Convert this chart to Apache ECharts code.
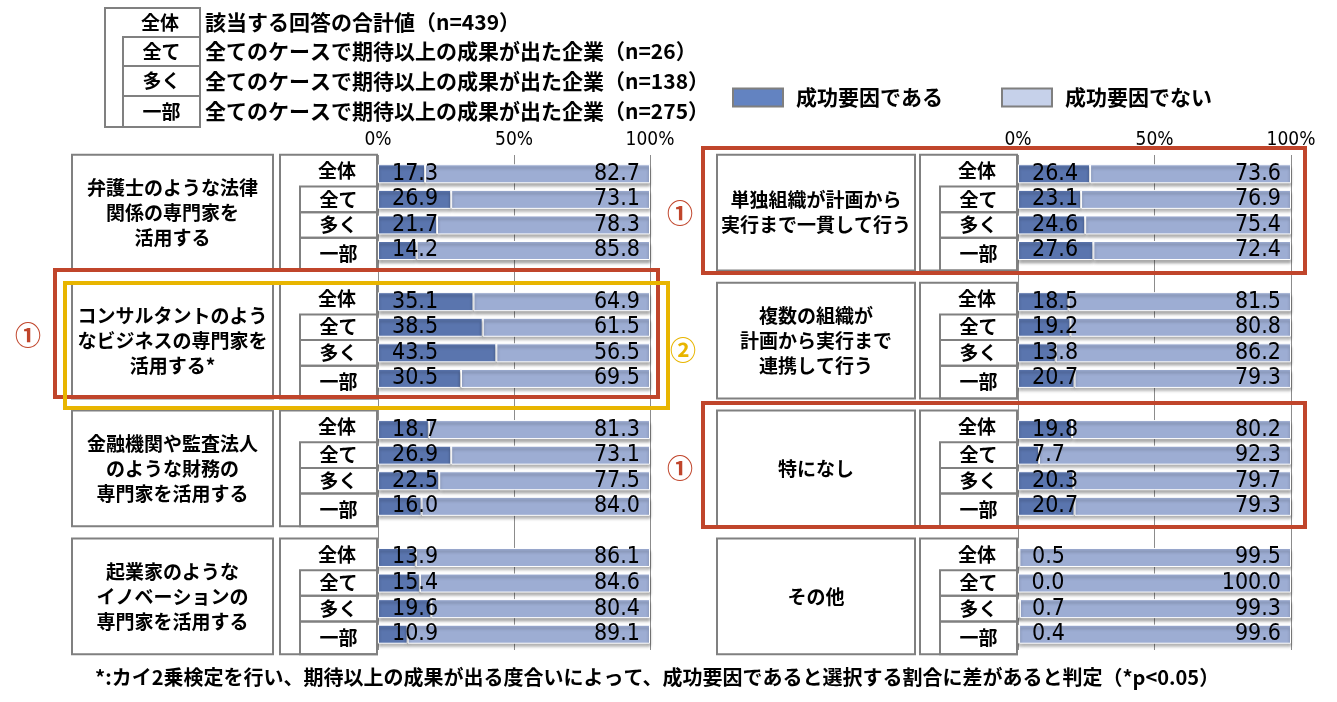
<!DOCTYPE html>
<html><head><meta charset="utf-8">
<script src="https://cdn.jsdelivr.net/npm/echarts@6/dist/echarts.min.js"></script>
<style>html,body{margin:0;padding:0;background:#fff}#c{width:1337px;height:702px}</style>
</head><body><div id="c"></div>
<script>
// ---------- data ----------
const subLabels = ['全体', '全て', '多く', '一部'];
const leftGroups = [
  '弁護士のような法律\n関係の専門家を\n活用する',
  'コンサルタントのよう\nなビジネスの専門家を\n活用する*',
  '金融機関や監査法人\nのような財務の\n専門家を活用する',
  '起業家のような\nイノベーションの\n専門家を活用する'
];
const rightGroups = [
  '単独組織が計画から\n実行まで一貫して行う',
  '複数の組織が\n計画から実行まで\n連携して行う',
  '特になし',
  'その他'
];
const leftYes = [17.3, 26.9, 21.7, 14.2, 35.1, 38.5, 43.5, 30.5, 18.7, 26.9, 22.5, 16.0, 13.9, 15.4, 19.6, 10.9];
const leftNo  = [82.7, 73.1, 78.3, 85.8, 64.9, 61.5, 56.5, 69.5, 81.3, 73.1, 77.5, 84.0, 86.1, 84.6, 80.4, 89.1];
const rightYes = [26.4, 23.1, 24.6, 27.6, 18.5, 19.2, 13.8, 20.7, 19.8, 7.7, 20.3, 20.7, 0.5, 0.0, 0.7, 0.4];
const rightNo  = [73.6, 76.9, 75.4, 72.4, 81.5, 80.8, 86.2, 79.3, 80.2, 92.3, 79.7, 79.3, 99.5, 100.0, 99.3, 99.6];
const seriesNames = ['成功要因である', '成功要因でない'];
const axisTickValues = [0, 50, 100];
const legendRows = [
  ['全体', '該当する回答の合計値（n=439）'],
  ['全て', '全てのケースで期待以上の成果が出た企業（n=26）'],
  ['多く', '全てのケースで期待以上の成果が出た企業（n=138）'],
  ['一部', '全てのケースで期待以上の成果が出た企業（n=275）']
];
const footnote = '*:カイ2乗検定を行い、期待以上の成果が出る度合いによって、成功要因であると選択する割合に差があると判定（*p<0.05）';

// ---------- helpers ----------
const CJK = '"Noto Sans CJK JP", "Noto Sans CJK SC", sans-serif';
const NUM = '"Liberation Sans Narrow", "Arial Narrow", "DejaVu Sans Condensed", sans-serif';
const DARK = '#5a75ae', LIGHT = '#9dadd3';
const RED = '#c0452b', YELLOW = '#e8b500', BOX = '#808080';

const cats = [];
for (let g = 0; g < 4; g++) {
  for (let k = 0; k < 4; k++) cats.push(subLabels[k] + g);
  if (g < 3) cats.push('sp' + g);
}
function expand(arr) {
  const out = [];
  for (let g = 0; g < 4; g++) {
    for (let k = 0; k < 4; k++) out.push(arr[g * 4 + k]);
    if (g < 3) out.push('-');
  }
  return out;
}
function bar(name, data, idx, color, pos, dist) {
  return {
    name, type: 'bar', xAxisIndex: idx, yAxisIndex: idx, stack: 's' + idx,
    data: expand(data), barWidth: 19,
    itemStyle: { color, borderColor: '#fff', borderWidth: 1,
      shadowColor: 'rgba(0,0,0,0.35)', shadowOffsetY: 3, shadowBlur: 3 },
    label: { show: true, position: pos, distance: dist,
      formatter: p => Number(p.value).toFixed(1),
      fontSize: 23, fontFamily: NUM, color: '#000' },
    emphasis: { disabled: true }, silent: true
  };
}
function bgX(idx) {
  return { gridIndex: idx, type: 'value', min: 0, max: 100, interval: 50, position: 'top',
    axisLine: { show: false }, axisTick: { show: false },
    axisLabel: { formatter: '{value}%', fontSize: 19, fontFamily: NUM, color: '#000', margin: 5 },
    splitLine: { show: true, lineStyle: { color: '#8c8c8c', width: 1 } } };
}

const chart = echarts.init(document.getElementById('c'), null, { renderer: 'canvas' });
chart.setOption({
  animation: false,
  backgroundColor: '#fff',
  grid: [
    { left: 378, width: 272, top: 161, height: 486 },
    { left: 1018, width: 273, top: 161, height: 486 },
    { left: 378, width: 272, top: 155, height: 495 },
    { left: 1018, width: 273, top: 155, height: 495 }
  ],
  xAxis: [
    { gridIndex: 0, type: 'value', min: 0, max: 100, show: false },
    { gridIndex: 1, type: 'value', min: 0, max: 100, show: false },
    bgX(2), bgX(3)
  ],
  yAxis: [
    { gridIndex: 0, type: 'category', data: cats, inverse: true, show: false },
    { gridIndex: 1, type: 'category', data: cats, inverse: true, show: false },
    { gridIndex: 2, type: 'value', min: 0, max: 1, show: false },
    { gridIndex: 3, type: 'value', min: 0, max: 1, show: false }
  ],
  legend: {
    left: 727, top: 82, itemWidth: 50, itemHeight: 18, itemGap: 58, icon: 'rect', selectedMode: false,
    textStyle: { fontSize: 21, fontWeight: 'bold', fontFamily: CJK, color: '#000', padding: [0, 0, 0, 8] },
    data: [
      { name: seriesNames[0], itemStyle: { color: '#6383c1', borderColor: '#7f7f7f', borderWidth: 2, shadowBlur: 0, shadowOffsetY: 0 } },
      { name: seriesNames[1], itemStyle: { color: '#c6d1ea', borderColor: '#7f7f7f', borderWidth: 2, shadowBlur: 0, shadowOffsetY: 0 } }
    ]
  },
  series: [
    bar(seriesNames[0], leftYes, 0, DARK, 'insideLeft', 14),
    bar(seriesNames[1], leftNo, 0, LIGHT, 'insideRight', 10),
    bar(seriesNames[0], rightYes, 1, DARK, 'insideLeft', 14),
    bar(seriesNames[1], rightNo, 1, LIGHT, 'insideRight', 10)
  ]
});

// ---------- annotation graphics ----------
const G = [];
function rect(x, y, w, h, stroke, lw, z) {
  G.push({ type: 'rect', z: z || 50, silent: true, shape: { x, y, width: w, height: h },
    style: { fill: 'none', stroke, lineWidth: lw } });
}
function text(x, y, t, size, align, color, lh) {
  G.push({ type: 'text', z: 60, silent: true, x, y,
    style: { text: t, fontSize: size, fontWeight: 'bold', fontFamily: CJK, fill: color || '#000',
      align: align || 'center', verticalAlign: 'middle', lineHeight: lh || size + 6 } });
}
const panels = [
  { gi: 0, groups: leftGroups, bigL: -306, bigR: -105 },
  { gi: 1, groups: rightGroups, bigL: -301, bigR: -103 }
];
panels.forEach(p => {
  const x0 = chart.convertToPixel({ gridIndex: p.gi }, [0, 0])[0];
  p.groups.forEach((label, g) => {
    const yc = [0, 1, 2, 3].map(k => chart.convertToPixel({ gridIndex: p.gi }, [0, g * 5 + k])[1]);
    const top = yc[0] - 19, bottom = yc[3] + 20;
    // big label box
    rect(x0 + p.bigL, top, p.bigR - p.bigL, bottom - top, BOX, 2);
    text(x0 + (p.bigL + p.bigR) / 2, (top + bottom) / 2, label, 19, 'center', '#000', 25);
    // sub label boxes
    rect(x0 - 98, top, 97, bottom - top, BOX, 2);
    const b = [top, (yc[0] + yc[1]) / 2, (yc[1] + yc[2]) / 2, (yc[2] + yc[3]) / 2, bottom];
    for (let k = 1; k < 4; k++) rect(x0 - 78, b[k], 77, b[k + 1] - b[k], BOX, 2);
    text(x0 - 41, (b[0] + b[1]) / 2, subLabels[0], 19);
    for (let k = 1; k < 4; k++) text(x0 - 39.5, (b[k] + b[k + 1]) / 2, subLabels[k], 19);
  });
});
// top-left key box
rect(105, 8, 95, 119, BOX, 2);
const keyB = [8, 37, 66, 96, 127];
for (let k = 1; k < 4; k++) rect(123, keyB[k], 77, keyB[k + 1] - keyB[k], BOX, 2);
legendRows.forEach((r, k) => {
  const cy = (keyB[k] + keyB[k + 1]) / 2;
  text(k === 0 ? 160 : 161.5, cy, r[0], 19);
  text(205, cy, r[1], 21, 'left');
});
// highlight frames
rect(55, 270, 603, 127, RED, 4, 70);
rect(65, 283, 603, 125, YELLOW, 4, 71);
rect(703, 148, 602, 125, RED, 4, 70);
rect(703, 403, 602, 124, RED, 4, 70);
text(28, 335, '①', 26, 'center', RED);
text(683, 350, '②', 26, 'center', YELLOW);
text(680, 213, '①', 26, 'center', RED);
text(680, 468, '①', 26, 'center', RED);
// footnote
text(95, 677, footnote, 20, 'left');

chart.setOption({ graphic: G });
</script>
</body></html>
